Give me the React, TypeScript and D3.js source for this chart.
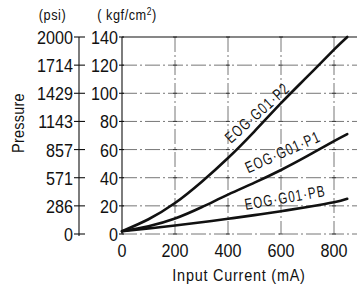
import React, { useEffect, useRef } from 'react';
import * as d3 from 'd3';

const current = [0, 100, 200, 300, 400, 500, 600, 700, 800, 850];
const p2 = [2, 10.5, 22, 37, 54, 73, 93, 112, 131, 140];
const p1 = [2, 5.5, 11, 19, 28, 36.5, 45.5, 55.5, 66, 71];
const pb = [2, 4, 6, 8.3, 10.8, 13.4, 16.2, 19.2, 22.5, 25];
const kgfTicks = [0, 20, 40, 60, 80, 100, 120, 140];
const psiTicks = ['0', '286', '571', '857', '1143', '1429', '1714', '2000'];
const currentTicks = [0, 200, 400, 600, 800];
const curveNames = ['EOG·G01·P2', 'EOG·G01·P1', 'EOG·G01·PB'];

const FONT = '"Liberation Sans", Arial, sans-serif';

const App = () => {
  const ref = useRef<SVGSVGElement | null>(null);

  useEffect(() => {
    if (!ref.current) return;
    const svg = d3.select(ref.current);
    svg.selectAll('*').remove();

    // condensed text helper (the original lettering is a condensed face)
    const txt = (x: number, y: number, s: string, size: number, anchor = 'middle',
      rotate = 0, spacing = 0, squeeze = 0.85) =>
      svg.append('text')
        .attr('transform', `translate(${x},${y}) rotate(${rotate}) scale(${squeeze},1)`)
        .attr('text-anchor', anchor)
        .style('font-family', FONT)
        .style('font-size', `${size}px`)
        .style('letter-spacing', `${spacing}px`)
        .style('fill', '#111')
        .text(s);

    const x = d3.scaleLinear().domain([0, 900]).range([122, 360.5]);
    const y = d3.scaleLinear().domain([0, 140]).range([234, 37]);
    const psiX = 79;

    // grid
    const grid = svg.append('g').attr('stroke', '#666').attr('stroke-width', 0.9)
      .attr('stroke-dasharray', '15,3,2,3');
    kgfTicks.filter(t => t > 0 && t < 140).forEach(t => {
      grid.append('line').attr('x1', x(0)).attr('x2', 360).attr('y1', y(t)).attr('y2', y(t));
    });
    currentTicks.filter(t => t > 0).forEach(t => {
      grid.append('line').attr('x1', x(t)).attr('x2', x(t)).attr('y1', y(140)).attr('y2', y(0));
    });
    grid.append('line').attr('x1', x(0)).attr('x2', 360).attr('y1', y(0)).attr('y2', y(0));

    // small crosses at grid intersections
    const cross = svg.append('g').attr('stroke', '#333').attr('stroke-width', 0.9);
    currentTicks.filter(t => t > 0).forEach(c => {
      kgfTicks.forEach(k => {
        cross.append('line').attr('x1', x(c) - 2).attr('x2', x(c) + 2).attr('y1', y(k)).attr('y2', y(k));
      });
    });

    // frame: top and left solid
    const frame = svg.append('g').attr('stroke', '#111').attr('stroke-width', 1.1);
    frame.append('line').attr('x1', x(0)).attr('x2', 360).attr('y1', y(140)).attr('y2', y(140));
    frame.append('line').attr('x1', x(0)).attr('x2', x(0)).attr('y1', y(140)).attr('y2', y(0));
    kgfTicks.forEach(t => {
      frame.append('line').attr('x1', x(0) - 3).attr('x2', x(0) + 2).attr('y1', y(t)).attr('y2', y(t));
    });

    // kgf labels
    kgfTicks.forEach(t => txt(118, y(t) + 7, String(t), 19, 'end'));

    // psi axis
    const psi = svg.append('g').attr('stroke', '#111').attr('stroke-width', 1.1);
    psi.append('line').attr('x1', psiX).attr('x2', psiX).attr('y1', y(140)).attr('y2', y(0) + 2);
    kgfTicks.forEach(t => {
      psi.append('line').attr('x1', psiX - 5).attr('x2', psiX + 6).attr('y1', y(t)).attr('y2', y(t));
    });
    psiTicks.forEach((s, i) => txt(73, y(kgfTicks[i]) + 7, s, 19, 'end'));

    // unit headers
    txt(52.5, 20, '(psi)', 15, 'middle', 0, 0.6);
    const kgf = txt(127, 20, '', 15, 'middle', 0, 0.6);
    kgf.append('tspan').text('( kgf/cm');
    kgf.append('tspan').attr('dy', -5).style('font-size', '10px').text('2');
    kgf.append('tspan').attr('dy', 5).text(')');

    txt(24, 123, 'Pressure', 17, 'middle', -90, 0.3);

    // x labels
    currentTicks.forEach(t => txt(x(t), 257, String(t), 19));
    txt(239, 281, 'Input Current (mA)', 17, 'middle', 0, 0.9);

    // curves
    const line = d3.line<number>()
      .x((d, i) => x(current[i]))
      .y(d => y(d))
      .curve(d3.curveNatural);
    [p2, p1, pb].forEach(s => {
      svg.append('path').datum(s)
        .attr('d', line)
        .attr('fill', 'none')
        .attr('stroke', '#111')
        .attr('stroke-width', 2.6)
        .attr('stroke-linecap', 'round');
    });

    // curve labels
    const labelPos = [
      { cx: 261, cy: 117, angle: -42 },
      { cx: 285, cy: 157, angle: -24 },
      { cx: 286, cy: 203, angle: -10 },
    ];
    labelPos.forEach((l, i) => txt(l.cx, l.cy, curveNames[i], 16, 'middle', l.angle, 1.6, 0.72));
  }, []);

  return (
    <svg ref={ref} width={357} height={289}
      style={{ position: 'absolute', left: 0, top: 0, background: '#fff' }} />
  );
};

export default App;
